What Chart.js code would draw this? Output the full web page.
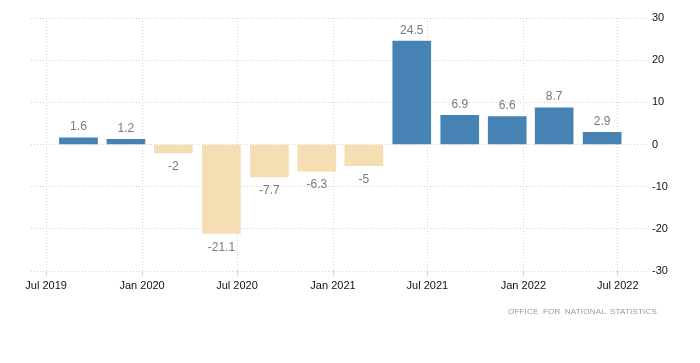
<!DOCTYPE html>
<html>
<head>
<meta charset="utf-8">
<script src="https://cdn.jsdelivr.net/npm/chart.js@4"></script>
<style>
  html, body { margin: 0; padding: 0; background: #fff; }
  #wrap { position: relative; width: 700px; height: 363px; }
  #source {
    position: absolute; right: 43px; top: 307px;
    font: 8px "Liberation Sans", Arial, sans-serif;
    letter-spacing: 0.2px; word-spacing: 2px; color: #999;
  }
</style>
</head>
<body>
<div id="wrap">
  <canvas id="chart" width="700" height="363"></canvas>
  <div id="source">OFFICE FOR NATIONAL STATISTICS</div>
</div>
<script>
// quarterly GDP growth, % (bars dated on the 1st of each quarter's last month)
const quarters = ['2019-09-01', '2019-12-01', '2020-03-01', '2020-06-01', '2020-09-01', '2020-12-01',
                  '2021-03-01', '2021-06-01', '2021-09-01', '2021-12-01', '2022-03-01', '2022-06-01'];
const growth = [1.6, 1.2, -2, -21.1, -7.7, -6.3, -5, 24.5, 6.9, 6.6, 8.7, 2.9];

const tickDates = ['2019-07-01', '2020-01-01', '2020-07-01', '2021-01-01', '2021-07-01', '2022-01-01', '2022-07-01'];
const tickLabels = ['Jul 2019', 'Jan 2020', 'Jul 2020', 'Jan 2021', 'Jul 2021', 'Jan 2022', 'Jul 2022'];
const yTicks = [30, 20, 10, 0, -10, -20, -30];

const origin = Date.UTC(2019, 6, 1);
function days(s) {
  return (Date.parse(s + 'T00:00:00Z') - origin) / 86400000;
}

const tickDays = tickDates.map(days);
const gridColor = '#d4d4d4';

const valueLabels = {
  id: 'valueLabels',
  afterDatasetsDraw(chart) {
    const ctx = chart.ctx;
    const meta = chart.getDatasetMeta(0);
    ctx.save();
    ctx.font = '12px "Liberation Sans", Arial, sans-serif';
    ctx.fillStyle = '#7a7a7a';
    ctx.textAlign = 'center';
    ctx.textBaseline = 'middle';
    meta.data.forEach((bar, i) => {
      const v = growth[i];
      const y = v >= 0 ? bar.y - 11 : bar.y + 14;
      ctx.fillText(String(v), bar.x, y);
    });
    ctx.restore();
  }
};

new Chart(document.getElementById('chart'), {
  type: 'bar',
  data: {
    datasets: [{
      data: quarters.map((q, i) => ({ x: days(q), y: growth[i] })),
      backgroundColor: growth.map(v => v >= 0 ? '#4682b4' : '#f5deb3'),
      barThickness: 38
    }]
  },
  options: {
    responsive: false,
    animation: false,
    layout: { padding: { left: 31, top: 18, right: 0, bottom: 0 } },
    plugins: { legend: { display: false }, tooltip: { enabled: false } },
    scales: {
      x: {
        type: 'linear',
        offset: false,
        min: -29,
        max: 1152,
        afterBuildTicks(scale) {
          scale.ticks = tickDays.map(v => ({ value: v }));
        },
        afterFit(scale) { scale.height = 92; },
        ticks: {
          autoSkip: false,
          maxRotation: 0,
          padding: 3,
          color: '#111',
          font: { family: '"Liberation Sans", Arial, sans-serif', size: 11 },
          callback: (v) => tickLabels[tickDays.indexOf(v)] || ''
        },
        grid: { offset: false, color: gridColor, drawTicks: true, tickLength: 5 },
        border: { display: false, dash: [1, 2] }
      },
      y: {
        position: 'right',
        min: -30,
        max: 30,
        afterBuildTicks(scale) {
          scale.ticks = yTicks.map(v => ({ value: v }));
        },
        afterFit(scale) { scale.width = 53; },
        ticks: {
          padding: 5,
          color: '#111',
          font: { family: '"Liberation Sans", Arial, sans-serif', size: 11 }
        },
        grid: { color: gridColor, drawTicks: false },
        border: { display: false, dash: [1, 2] }
      }
    }
  },
  plugins: [valueLabels]
});
</script>
</body>
</html>
